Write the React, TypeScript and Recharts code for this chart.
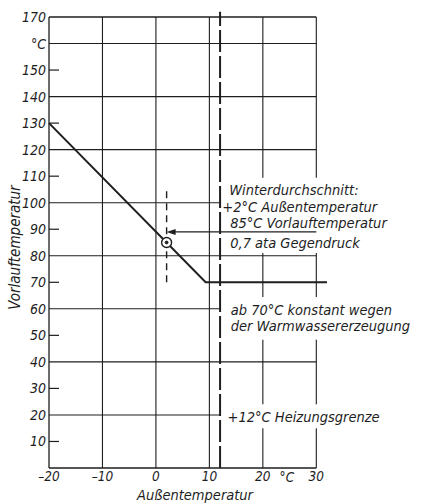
import {
  LineChart,
  Line,
  XAxis,
  YAxis,
  ReferenceLine,
  ReferenceDot,
  Label,
} from "recharts";

// Heizkurve: Vorlauftemperatur über Außentemperatur
const outdoorTemp = [-20, 9.3, 32];
const flowTemp = [130, 70, 70];

const xTicks = [-20, -10, 0, 10, 20, 30];
const yTicks = [10, 20, 30, 40, 50, 60, 70, 80, 90, 100, 110, 120, 130, 140, 150, 160, 170];
const gridX = [-10, 0, 10, 20, 30];
const gridY = [20, 40, 60, 80, 100, 120, 140, 160];

const heatingLimit = 12;
const winterOutdoor = 2;
const winterFlow = 85;

const noteText = [
  "Winterdurchschnitt:",
  "+2°C Außentemperatur",
  "85°C Vorlauftemperatur",
  "0,7 ata Gegendruck",
  "ab 70°C konstant wegen",
  "der Warmwassererzeugung",
  "+12°C Heizungsgrenze",
];

// layout of the annotations (value coords of each text baseline start)
const noteX = [13.7, 12.4, 13.9, 13.9, 14, 14, 13.4];
const noteY = [103, 96.4, 90.4, 83, 57.7, 51.5, 17.4];
// y ranges where the text blocks cut the grid right of the 12 °C line
const noteBands = [
  [15, 24],
  [48.3, 64.5],
  [81, 109.4],
];

const FONT = "'Liberation Sans Narrow', 'DejaVu Sans Condensed', sans-serif";
const INK = "#1e1e1e";

const data = outdoorTemp.map((x, i) => ({ x, y: flowTemp[i] }));

function verticalSegments(v: number) {
  if (v <= heatingLimit) return [[0, 170]];
  const out: number[][] = [];
  let from = 0;
  noteBands.forEach(([a, b]) => {
    out.push([from, a]);
    from = b;
  });
  out.push([from, 170]);
  return out;
}

function hLineEnd(v: number) {
  return noteBands.some(([a, b]) => v > a && v < b) ? heatingLimit : 30;
}

function YTick({ x, y, payload }: any) {
  const v = payload.value;
  return (
    <g>
      {!gridY.includes(v) && v !== 170 && (
        <line x1={x + 3} x2={x + 13} y1={y} y2={y} stroke={INK} strokeWidth={1.2} />
      )}
      <text x={x} y={y} dy={5} textAnchor="end" fontSize={14} fill={INK}>
        {v === 160 ? "°C" : v}
      </text>
    </g>
  );
}

function Arrow(p: any) {
  const { x1, y1, x2, y2 } = p;
  return (
    <g>
      <line x1={x1 + 4} y1={y1} x2={x2} y2={y2} stroke={INK} strokeWidth={1.2} />
      <polygon points={`${x1},${y1} ${x1 + 9},${y1 - 3} ${x1 + 9},${y1 + 3}`} fill={INK} />
    </g>
  );
}

export default function App() {
  return (
    <div
      style={{
        position: "absolute",
        left: 0,
        top: 0,
        fontFamily: FONT,
        fontStyle: "italic",
        background: "#fff",
      }}
    >
      <LineChart
        width={425}
        height={504}
        data={data}
        margin={{ top: 17, right: 98, bottom: 6, left: 0 }}
      >
        <XAxis
          dataKey="x"
          type="number"
          domain={[-20, 32]}
          ticks={xTicks}
          interval={0}
          axisLine={false}
          tickLine={false}
          tickSize={0}
          tickMargin={3}
          height={30}
          tick={{ fill: INK, fontSize: 13.5 }}
          tickFormatter={(v: number) => (v < 0 ? `–${-v}` : `${v}`)}
        >
          <Label value="Außentemperatur" position="insideBottom" offset={-2} dx={7} fill={INK} fontSize={14.5} />
        </XAxis>
        <YAxis
          type="number"
          domain={[0, 170]}
          ticks={yTicks}
          interval={0}
          width={49}
          axisLine={false}
          tickLine={false}
          tickSize={0}
          tickMargin={3}
          tick={<YTick />}
        >
          <Label value="Vorlauftemperatur" position="center" angle={-90} dx={-10} dy={5} fill={INK} fontSize={15} />
        </YAxis>

        {/* frame */}
        <ReferenceLine segment={[{ x: -20, y: 0 }, { x: -20, y: 170 }]} stroke={INK} strokeWidth={1.3} />
        <ReferenceLine segment={[{ x: -20, y: 0 }, { x: 30, y: 0 }]} stroke={INK} strokeWidth={1.3} />
        <ReferenceLine segment={[{ x: -20, y: 170 }, { x: 30, y: 170 }]} stroke={INK} strokeWidth={1.3} />

        {/* grid */}
        {gridY.map((v) => (
          <ReferenceLine
            key={`h${v}`}
            segment={[{ x: -20, y: v }, { x: hLineEnd(v), y: v }]}
            stroke={INK}
            strokeWidth={1.1}
          />
        ))}
        {gridX.flatMap((v) =>
          verticalSegments(v).map(([a, b]) => (
            <ReferenceLine
              key={`v${v}-${a}`}
              segment={[{ x: v, y: a }, { x: v, y: b }]}
              stroke={INK}
              strokeWidth={1.1}
            />
          ))
        )}

        {/* Heizungsgrenze */}
        <ReferenceLine
          segment={[{ x: heatingLimit, y: 0 }, { x: heatingLimit, y: 172 }]}
          ifOverflow="visible"
          stroke={INK}
          strokeWidth={2}
          strokeDasharray="22 4"
        />

        {/* Winterdurchschnitt */}
        <ReferenceLine
          segment={[{ x: winterOutdoor, y: 70 }, { x: winterOutdoor, y: 105 }]}
          stroke={INK}
          strokeWidth={1.4}
          strokeDasharray="7 5"
        />
        <ReferenceLine
          segment={[{ x: winterOutdoor, y: 89 }, { x: 30, y: 89 }]}
          shape={Arrow}
        />

        <Line
          dataKey="y"
          type="linear"
          stroke={INK}
          strokeWidth={2}
          dot={false}
          isAnimationActive={false}
        />

        <ReferenceDot x={winterOutdoor} y={winterFlow} r={5} fill="#fff" stroke={INK} strokeWidth={1.4} />
        <ReferenceDot x={winterOutdoor} y={winterFlow} r={1.4} fill={INK} stroke={INK} />

        <ReferenceDot
          x={24.5}
          y={0}
          r={0}
          shape={(p: any) => (
            <text x={p.cx} y={p.cy} dy={14} textAnchor="middle" fontSize={13.5} fill={INK}>
              °C
            </text>
          )}
        />

        {noteText.map((t, i) => (
          <ReferenceDot
            key={t}
            x={noteX[i]}
            y={noteY[i]}
            r={0}
            ifOverflow="visible"
            shape={(p: any) => (
              <text x={p.cx} y={p.cy} fontSize={14.5} fill={INK}>
                {t}
              </text>
            )}
          />
        ))}
      </LineChart>
    </div>
  );
}
